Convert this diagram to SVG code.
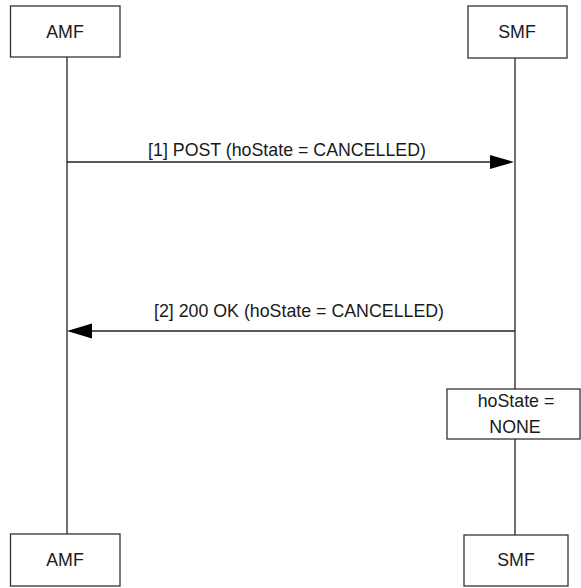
<svg xmlns="http://www.w3.org/2000/svg" width="581" height="588" viewBox="0 0 581 588">
  <style>
    .box { fill: #ffffff; stroke: #333333; stroke-width: 1.3; }
    .life { stroke: #222222; stroke-width: 1.3; fill: none; }
    .msg { stroke: #222222; stroke-width: 1.3; fill: none; }
    .head { fill: #000000; stroke: none; }
    text { font-family: "Liberation Sans", Arial, sans-serif; font-size: 17.8px; fill: #1a1a1a; text-anchor: middle; }
  </style>
  <rect x="0" y="0" width="581" height="588" fill="#ffffff"/>
  <g id="lifelines">
    <line class="life" x1="67" y1="57" x2="67" y2="534"/>
    <line class="life" x1="515" y1="58" x2="515" y2="389"/>
    <line class="life" x1="515" y1="439" x2="515" y2="535"/>
  </g>
  <g id="AMF-top">
    <rect class="box" x="10.5" y="6" width="109.5" height="51"/>
    <text x="65" y="38">AMF</text>
  </g>
  <g id="SMF-top">
    <rect class="box" x="468" y="6" width="99" height="52"/>
    <text x="517" y="38">SMF</text>
  </g>
  <g id="AMF-bottom">
    <rect class="box" x="10.5" y="534" width="109.5" height="52"/>
    <text x="65" y="566">AMF</text>
  </g>
  <g id="SMF-bottom">
    <rect class="box" x="464" y="535" width="104" height="51"/>
    <text x="516" y="566">SMF</text>
  </g>
  <g id="hoState-note">
    <rect class="box" x="447" y="389" width="133" height="50"/>
    <text x="516" y="407">hoState =</text>
    <text x="515" y="433">NONE</text>
  </g>
  <g id="connectors">
    <line class="msg" x1="67" y1="162" x2="492" y2="162"/>
    <polygon class="head" points="490,155 514,162 490,169"/>
    <text x="287" y="156">[1] POST (hoState = CANCELLED)</text>
    <line class="msg" x1="515" y1="331" x2="90" y2="331"/>
    <polygon class="head" points="92,323.5 67,331 92,338.5"/>
    <text x="299" y="317">[2] 200 OK (hoState = CANCELLED)</text>
  </g>
</svg>
